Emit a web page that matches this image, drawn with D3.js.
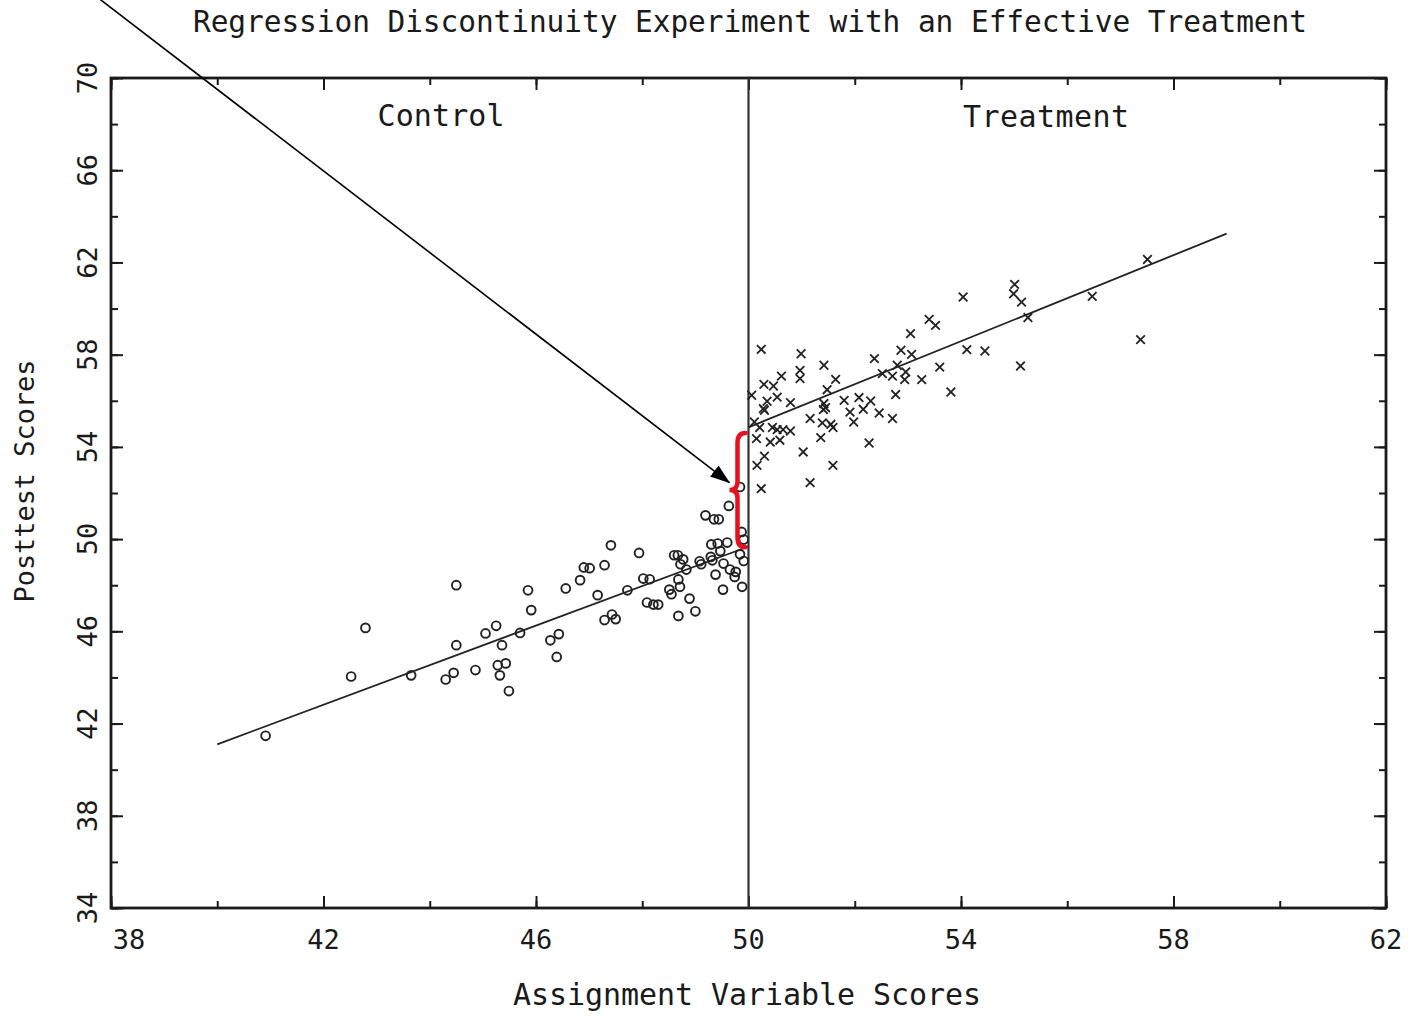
<!DOCTYPE html>
<html>
<head>
<meta charset="utf-8">
<script src="https://cdn.jsdelivr.net/npm/d3@7"></script>
<style>
  body { margin: 0; background: #fff; }
  text { font-family: "DejaVu Sans Mono", monospace; fill: #1a1a1a; }
</style>
</head>
<body>
<div class="chart"></div>
<script>
var width = 1409
var height = 1016

// control group (circles)
var controlX = [40.91, 42.52, 42.79, 43.65, 44.50, 44.50, 44.30, 44.45, 44.86,
  45.05, 45.25, 45.36, 45.28, 45.43, 45.32, 45.49, 45.70, 45.85, 45.91,
  46.27, 46.43, 46.39, 46.56, 46.83, 46.90, 47.01, 47.16, 47.29, 47.41,
  47.29, 47.43, 47.50, 47.72, 47.94, 48.02, 48.14, 48.09, 48.21, 48.30,
  48.51, 48.55, 48.60, 48.67, 48.71, 48.68, 48.77, 48.72, 48.83, 48.89,
  48.68, 49.00, 49.08, 49.11, 49.29, 49.32, 49.30, 49.42, 49.60, 49.47,
  49.53, 49.38, 49.65, 49.76, 49.74, 49.52, 49.88, 49.84, 49.91, 49.19,
  49.35, 49.44, 49.63, 49.84, 49.87, 49.91];
var controlY = [41.47, 44.04, 46.15, 44.09, 48.00, 45.40, 43.91, 44.20, 44.32,
  45.91, 46.24, 45.40, 44.53, 44.61, 44.09, 43.41, 45.93, 47.78, 46.92,
  45.61, 45.88, 44.89, 47.86, 48.22, 48.77, 48.74, 47.57, 48.87, 49.73,
  46.49, 46.73, 46.53, 47.78, 49.40, 48.29, 48.26, 47.25, 47.16, 47.16,
  47.81, 47.61, 49.30, 49.30, 47.93, 48.25, 49.12, 48.91, 48.68, 47.42,
  46.67, 46.87, 49.04, 48.91, 49.23, 49.08, 49.77, 49.81, 49.85, 49.48,
  48.94, 48.46, 48.68, 48.58, 48.36, 47.81, 47.93, 49.34, 49.05, 51.03,
  50.86, 50.86, 51.44, 52.26, 50.31, 49.98];

// treatment group (crosses)
var treatX = [50.24, 50.99, 51.42, 50.97, 50.97, 50.62, 50.29, 50.47, 50.06,
  50.54, 50.35, 50.28, 50.30, 50.79, 51.64, 51.48, 51.42, 51.45, 51.41,
  51.80, 52.08, 52.30, 52.16, 51.91, 52.46, 51.98, 52.71, 52.77, 52.37,
  52.52, 52.71, 52.80, 52.87, 53.07, 53.05, 52.96, 52.94, 53.26, 53.60,
  53.81, 51.16, 51.39, 51.55, 51.59, 51.36, 50.11, 50.21, 50.45, 50.54,
  50.65, 50.79, 50.15, 50.41, 50.59, 50.30, 50.16, 50.24, 51.03, 52.27,
  51.59, 51.16, 57.51, 56.47, 55.01, 54.99, 55.14, 55.26, 54.04, 54.11,
  54.45, 55.12, 57.38, 53.40, 53.52];
var treatY = [58.23, 58.04, 57.54, 57.32, 56.96, 57.07, 56.71, 56.64, 56.24,
  56.16, 55.98, 55.66, 55.59, 55.92, 56.93, 56.48, 55.88, 55.70, 55.62,
  56.02, 56.14, 55.99, 55.63, 55.51, 55.47, 55.08, 55.23, 56.27, 57.83,
  57.18, 57.07, 57.54, 58.19, 58.01, 58.91, 57.25, 56.92, 56.92, 57.46,
  56.38, 55.23, 55.04, 54.98, 54.84, 54.40, 55.08, 54.84, 54.84, 54.75,
  54.75, 54.69, 54.36, 54.21, 54.29, 53.60, 53.20, 52.19, 53.78, 54.17,
  53.20, 52.45, 62.13, 60.53, 61.05, 60.64, 60.28, 59.61, 60.50, 58.22,
  58.16, 57.51, 58.65, 59.53, 59.27];

// fitted regression lines
var controlLineX = [40, 50]
var controlLineY = [41.1, 49.68]
var treatLineX = [50, 59]
var treatLineY = [54.85, 63.25]

var cutoff = 50
var minorTicksX = [38, 40, 42, 44, 46, 48, 50, 52, 54, 56, 58, 60, 62]
var labelTicksX = [38, 42, 46, 50, 54, 58, 62]
var minorTicksY = [34, 36, 38, 40, 42, 44, 46, 48, 50, 52, 54, 56, 58, 60, 62, 64, 66, 68, 70]
var labelTicksY = [34, 38, 42, 46, 50, 54, 58, 62, 66, 70]

// brace spans the jump at the cutoff, arrow points at its middle
var braceY = [54.6, 49.65]
var arrowFrom = [37.8, 73.4]
var arrowTo = [49.64, 52.45]

var ink = "#1a1a1a"

var x = d3.scaleLinear().domain([38, 62]).range([111, 1386])
var y = d3.scaleLinear().domain([34, 70]).range([908, 78])

var svg = d3.select(".chart").append("svg")
            .attr("width", width)
            .attr("height", height)

svg.append("defs").append("marker")
   .attr("id", "head")
   .attr("markerUnits", "userSpaceOnUse")
   .attr("viewBox", "0 0 20 14")
   .attr("refX", 19)
   .attr("refY", 7)
   .attr("markerWidth", 20)
   .attr("markerHeight", 14)
   .attr("orient", "auto")
   .append("path")
   .attr("d", "M0,0L20,7L0,14Z")
   .attr("fill", "#000")

// ticks, all pointing into the plot; long ones carry labels
var drawTicks = function(values, size) {
  var axes = [
    [d3.axisBottom(x), "translate(0," + y(34) + ")"],
    [d3.axisTop(x), "translate(0," + y(70) + ")"]
  ]
  axes.forEach(function(a) {
    var g = svg.append("g").attr("transform", a[1])
               .call(a[0].tickValues(values.x).tickSize(-size).tickFormat(""))
    g.select(".domain").remove()
    g.selectAll("line").attr("stroke", ink).attr("stroke-width", 2)
  })
  var axesY = [
    [d3.axisLeft(y), "translate(" + x(38) + ",0)"],
    [d3.axisRight(y), "translate(" + x(62) + ",0)"]
  ]
  axesY.forEach(function(a) {
    var g = svg.append("g").attr("transform", a[1])
               .call(a[0].tickValues(values.y).tickSize(-size).tickFormat(""))
    g.select(".domain").remove()
    g.selectAll("line").attr("stroke", ink).attr("stroke-width", 2)
  })
}
drawTicks({x: minorTicksX, y: minorTicksY}, 7)
drawTicks({x: labelTicksX, y: labelTicksY}, 12)

var frame = svg.append("rect")
               .attr("x", x(38))
               .attr("y", y(70))
               .attr("width", x(62) - x(38))
               .attr("height", y(34) - y(70))
               .attr("fill", "none")
               .attr("stroke", ink)
               .attr("stroke-width", 2.8)

var cutLine = svg.append("line")
                 .attr("x1", x(cutoff))
                 .attr("y1", y(34))
                 .attr("x2", x(cutoff))
                 .attr("y2", y(70))
                 .attr("stroke", "#333")
                 .attr("stroke-width", 2.2)

var line = d3.line()
             .x(function(d) { return x(d[0]); })
             .y(function(d) { return y(d[1]); })

svg.append("path")
   .attr("d", line(d3.zip(controlLineX, controlLineY)))
   .attr("fill", "none")
   .attr("stroke", "#222")
   .attr("stroke-width", 1.8)

svg.append("path")
   .attr("d", line(d3.zip(treatLineX, treatLineY)))
   .attr("fill", "none")
   .attr("stroke", "#222")
   .attr("stroke-width", 1.8)

var circles = svg.selectAll("circle.ctrl")
                 .data(d3.zip(controlX, controlY))
                 .enter()
                 .append("circle")
                 .attr("class", "ctrl")
                 .attr("cx", function(d) { return x(d[0]); })
                 .attr("cy", function(d) { return y(d[1]); })
                 .attr("r", 4.4)
                 .attr("fill", "none")
                 .attr("stroke", "#222")
                 .attr("stroke-width", 1.9)

var crosses = svg.selectAll("path.trt")
                 .data(d3.zip(treatX, treatY))
                 .enter()
                 .append("path")
                 .attr("class", "trt")
                 .attr("transform", function(d) { return "translate(" + x(d[0]) + "," + y(d[1]) + ")"; })
                 .attr("d", "M-4.3,-4.3L4.3,4.3M-4.3,4.3L4.3,-4.3")
                 .attr("stroke", "#222")
                 .attr("stroke-width", 1.8)

// tick labels
svg.selectAll("text.xlab")
   .data(labelTicksX)
   .enter()
   .append("text")
   .attr("class", "xlab")
   .attr("x", function(d) { return x(d) + (d == 38 ? 18 : 0); })
   .attr("y", 949)
   .attr("text-anchor", "middle")
   .attr("font-size", 27)
   .text(function(d) { return d; })

svg.selectAll("text.ylab")
   .data(labelTicksY)
   .enter()
   .append("text")
   .attr("class", "ylab")
   .attr("transform", function(d) { return "translate(97," + y(d) + ") rotate(-90)"; })
   .attr("text-anchor", "middle")
   .attr("font-size", 27)
   .text(function(d) { return d; })

var title = svg.append("text")
               .attr("x", 750)
               .attr("y", 32)
               .attr("text-anchor", "middle")
               .attr("font-size", 29.5)
               .attr("textLength", 1114)
               .attr("lengthAdjust", "spacing")
               .text("Regression Discontinuity Experiment with an Effective Treatment")

svg.append("text")
   .attr("x", 441)
   .attr("y", 126)
   .attr("text-anchor", "middle")
   .attr("font-size", 30)
   .attr("textLength", 127)
   .attr("lengthAdjust", "spacing")
   .text("Control")

svg.append("text")
   .attr("x", 1046)
   .attr("y", 127)
   .attr("text-anchor", "middle")
   .attr("font-size", 30)
   .attr("textLength", 166)
   .attr("lengthAdjust", "spacing")
   .text("Treatment")

var xAxisLabel = svg.append("text")
                    .attr("x", 747)
                    .attr("y", 1005)
                    .attr("text-anchor", "middle")
                    .attr("font-size", 30)
                    .attr("textLength", 468)
                    .attr("lengthAdjust", "spacing")
                    .text("Assignment Variable Scores")

var yAxisLabel = svg.append("text")
                    .attr("transform", "translate(34,481) rotate(-90)")
                    .attr("text-anchor", "middle")
                    .attr("font-size", 27)
                    .attr("textLength", 243)
                    .attr("lengthAdjust", "spacing")
                    .text("Posttest Scores")

// red brace at the cutoff
var bx = x(cutoff)
var bt = y(braceY[0])
var bb = y(braceY[1])
var bm = (bt + bb) / 2
svg.append("path")
   .attr("d", "M" + (bx - 3) + "," + bt +
              "Q" + (bx - 11) + "," + bt + " " + (bx - 11) + "," + (bt + 10) +
              "L" + (bx - 11) + "," + (bm - 8) +
              "Q" + (bx - 11) + "," + bm + " " + (bx - 19) + "," + bm +
              "Q" + (bx - 11) + "," + bm + " " + (bx - 11) + "," + (bm + 8) +
              "L" + (bx - 11) + "," + (bb - 10) +
              "Q" + (bx - 11) + "," + bb + " " + (bx - 3) + "," + bb)
   .attr("fill", "none")
   .attr("stroke", "#e8101a")
   .attr("stroke-width", 4.5)
   .attr("stroke-linecap", "round")

var arrow = svg.append("line")
               .attr("x1", x(arrowFrom[0]))
               .attr("y1", y(arrowFrom[1]))
               .attr("x2", x(arrowTo[0]))
               .attr("y2", y(arrowTo[1]))
               .attr("stroke", "#000")
               .attr("stroke-width", 1.6)
               .attr("marker-end", "url(#head)")
</script>
</body>
</html>
